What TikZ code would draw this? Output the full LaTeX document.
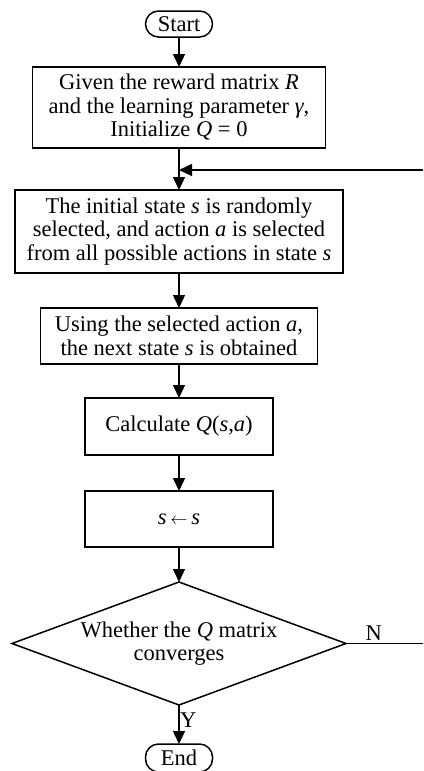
\documentclass[tikz,border=0pt]{standalone}
\usepackage{fontspec}
\setmainfont{Liberation Serif}
\usepackage{tikz}
\usetikzlibrary{arrows.meta, positioning, shapes.geometric}

\begin{document}
\begin{tikzpicture}[
    font=\fontsize{22.5}{23.5}\selectfont,
    line width=1.5pt,
    every node/.style={outer sep=0pt},
    box/.style={rectangle, draw, inner sep=0pt, align=center},
    term/.style={rectangle, rounded corners=13pt, draw, inner sep=0pt, minimum width=67pt, minimum height=26pt},
    decide/.style={diamond, draw, aspect=2.72, inner sep=0pt, minimum width=334pt, minimum height=123pt, align=center},
    arrow/.style={-{Triangle[length=13pt, width=12pt]}}
]
\useasboundingbox (0,0) rectangle (423pt,-771pt);

\node[term] (start) at (179pt,-24pt) {Start};
\node[box, minimum width=293pt, minimum height=81pt, below=30pt of start] (init)
    {Given the reward matrix \textit{R}\\and the learning parameter \textit{γ},\\Initialize \textit{Q} = 0};
\node[box, minimum width=328pt, minimum height=83pt, below=42pt of init] (select)
    {The initial state \textit{s} is randomly\\selected, and action \textit{a} is selected\\from all possible actions in state \textit{s}};
\node[box, minimum width=277pt, minimum height=56pt, below=35pt of select] (next)
    {Using the selected action \textit{a},\\the next state \textit{s} is obtained};
\node[box, minimum width=188pt, minimum height=57pt, below=34pt of next] (calc)
    {Calculate \textit{Q}(\textit{s},\textit{a})};
\node[box, minimum width=188pt, minimum height=56pt, below=36pt of calc] (update)
    {\textit{s}\,{\fontsize{17}{17}\selectfont$\leftarrow$}\,\textit{s}};
\node[decide, below=35pt of update] (conv)
    {Whether the \textit{Q} matrix\\converges};
\node[term, minimum height=28pt, below=39pt of conv] (stop) {End};

\coordinate (join) at ([yshift=-22pt]init.south);
\coordinate (back) at (join -| 423pt,0);
\coordinate (again) at (conv.east -| 423pt,0);

\draw[arrow] (start) -- (init);
\draw[arrow] (init) -- (select);
\draw[arrow] (back) -- (join);
\draw[arrow] (select) -- (next);
\draw[arrow] (next) -- (calc);
\draw[arrow] (calc) -- (update);
\draw[arrow] (update) -- (conv);
\draw (conv.east) -- node[above, pos=0.36]{N} (again);
\draw[arrow] (conv) -- node[right, pos=0.4, inner sep=1pt]{Y} (stop);
\end{tikzpicture}
\end{document}
